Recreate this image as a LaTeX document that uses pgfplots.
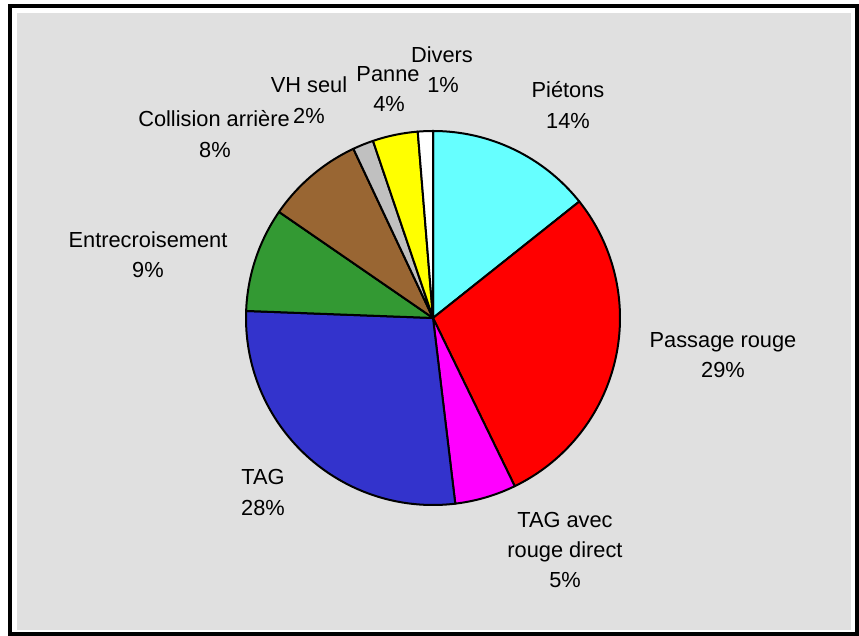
\documentclass[border=0pt]{standalone}
\usepackage{pgfplots}
\usepackage{pgfplotstable}
\pgfplotsset{compat=1.18}
\usepackage{fontspec}
\setmainfont{Liberation Sans}
\definecolor{bgGray}{HTML}{E0E0E0}
\definecolor{pCyan}{HTML}{66FFFF}
\definecolor{pRed}{HTML}{FF0000}
\definecolor{pMagenta}{HTML}{FF00FF}
\definecolor{pBlue}{HTML}{3333CC}
\definecolor{pGreen}{HTML}{339933}
\definecolor{pBrown}{HTML}{996633}
\definecolor{pGray}{HTML}{C0C0C0}
\definecolor{pYellow}{HTML}{FFFF00}
\definecolor{pWhite}{HTML}{FFFFFF}

% shares in percent, clockwise from 12 o'clock
\pgfplotstableread[col sep=comma]{
share,col
14.3,pCyan
28.5,pRed
5.3,pMagenta
27.5,pBlue
9.0,pGreen
8.4,pBrown
1.8,pGray
3.9,pYellow
1.3,pWhite
}\piedata

\newcommand{\lab}[3]{\node[anchor=base,inner sep=0pt,font=\fontsize{21.8bp}{26bp}\selectfont] at (axis cs:#1,636-#2) {#3};}

\begin{document}
\begin{tikzpicture}
\begin{axis}[
  x=1bp, y=1bp, scale only axis,
  xmin=0, xmax=859, ymin=0, ymax=636,
  hide axis, clip=false,
]
\pgfplotsextra{
  \path[use as bounding box] (axis cs:0,0) rectangle (axis cs:859,636);
  % frame
  \fill[white] (axis cs:0,0) rectangle (axis cs:859,636);
  \draw[black,line width=4bp] (axis cs:10,2) rectangle (axis cs:857,630);
  \fill[bgGray] (axis cs:17,6) rectangle (axis cs:851,623);
  % pie
  \pgfplotstablegetrowsof{\piedata}
  \pgfmathtruncatemacro\N{\pgfplotsretval-1}
  \gdef\cum{0}
  \foreach \i in {0,...,\N}{
    \pgfplotstablegetelem{\i}{share}\of\piedata
    \pgfmathsetmacro\s{\pgfplotsretval}
    \pgfplotstablegetelem{\i}{col}\of\piedata
    \edef\c{\pgfplotsretval}
    \pgfmathsetmacro\sa{90-3.6*\cum}
    \pgfmathsetmacro\ea{90-3.6*(\cum+\s)}
    \fill[fill=\c,draw=black,line width=2bp,line join=round]
      (axis cs:433,318) -- ++(\sa:187bp) arc[start angle=\sa,end angle=\ea,radius=187bp] -- cycle;
    \pgfmathsetmacro\nc{\cum+\s}
    \xdef\cum{\nc}
  }
  % labels
  \lab{568}{98}{Piétons}
  \lab{568}{129}{14\%}
  \lab{723}{348}{Passage rouge}
  \lab{723}{378}{29\%}
  \lab{565}{528}{TAG avec}
  \lab{565}{558}{rouge direct}
  \lab{565}{588}{5\%}
  \lab{263}{485}{TAG}
  \lab{263}{516}{28\%}
  \lab{148}{248}{Entrecroisement}
  \lab{148}{278}{9\%}
  \lab{214}{127}{Collision arrière}
  \lab{215}{158}{8\%}
  \lab{309}{93}{VH seul}
  \lab{309}{124}{2\%}
  \lab{388}{82}{Panne}
  \lab{389}{112}{4\%}
  \lab{442}{63}{Divers}
  \lab{443}{93}{1\%}
}
\end{axis}
\end{tikzpicture}
\end{document}
